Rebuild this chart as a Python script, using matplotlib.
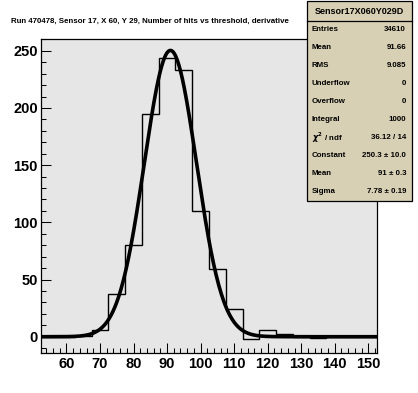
import numpy as np
import matplotlib
matplotlib.use('Agg')
import matplotlib.pyplot as plt
from matplotlib.patches import Rectangle
from matplotlib.ticker import MultipleLocator

plt.rcParams['font.family'] = ['Liberation Sans', 'DejaVu Sans']
plt.rcParams['font.weight'] = 'bold'
plt.rcParams['mathtext.fontset'] = 'dejavusans'

# ============================================================================
# data
# ============================================================================
bin_edges = np.arange(52.5, 153.0, 5.0)
bin_counts = [0, 0, 1, 6, 37, 80, 195, 244, 233, 110,
              59, 24, -2, 6, 2, 0, -1, 0, 0, 0]

# gaussian fit parameters from the stats box
fit_const, fit_mean, fit_sigma = 250.3, 91.0, 7.78

title = 'Run 470478, Sensor 17, X 60, Y 29, Number of hits vs threshold, derivative'
stats_name = 'Sensor17X060Y029D'
stats_labels = ['Entries', 'Mean', 'RMS', 'Underflow', 'Overflow', 'Integral',
                r'$\chi^{2}$ / ndf', 'Constant', 'Mean', 'Sigma']
stats_values = ['34610', '91.66', '9.085', '0', '0', '1000',
                '36.12 / 14', '250.3 \u00b1 10.0', '91 \u00b1 0.3',
                '7.78 \u00b1 0.19']

W, H = 418, 393
fig = plt.figure(figsize=(W / 100, H / 100), dpi=100)
ax = fig.add_axes([41.3 / W, 1 - 353.3 / H, (376.7 - 41.3) / W, (353.3 - 39) / H])
ax.set_facecolor('#e6e6e6')

ax.stairs(bin_counts, bin_edges, color='black', lw=1.0, baseline=None)

xf = np.linspace(bin_edges[0], bin_edges[-1], 400)
yf = fit_const * np.exp(-0.5 * ((xf - fit_mean) / fit_sigma) ** 2)
ax.plot(xf, yf, color='black', lw=2.6)

ax.set_xlim(52.5, 152.5)
ax.set_ylim(-14.5, 260.3)
ax.xaxis.set_major_locator(MultipleLocator(10))
ax.xaxis.set_minor_locator(MultipleLocator(2))
ax.yaxis.set_major_locator(MultipleLocator(50))
ax.yaxis.set_minor_locator(MultipleLocator(10))
ax.tick_params(which='both', direction='in', top=False, right=False,
               width=0.75, labelsize=10.5, pad=2.5)
ax.tick_params(which='major', length=7.2)
ax.tick_params(which='minor', length=3.6)
for lab in ax.get_xticklabels() + ax.get_yticklabels():
    lab.set_fontweight('bold')
for sp in ax.spines.values():
    sp.set_linewidth(0.9)

fig.text(11 / W, 1 - 21 / H, title, fontsize=5.7, fontweight='bold',
         ha='left', va='center')

# stats box
bx0, bx1, by0, by1 = 306.5, 411.5, 1.0, 200.5
fig.patches.append(Rectangle((bx0 / W, 1 - by1 / H), (bx1 - bx0) / W,
                             (by1 - by0) / H, transform=fig.transFigure,
                             facecolor='#d8d0b4', edgecolor='black', lw=0.9,
                             zorder=5))
fig.add_artist(plt.Line2D([bx0 / W, bx1 / W], [1 - 21 / H, 1 - 21 / H],
                          transform=fig.transFigure, color='black', lw=0.9,
                          zorder=6))
fig.text((bx0 + bx1) / 2 / W, 1 - 12 / H, stats_name, fontsize=6.5,
         fontweight='bold', ha='center', va='center', zorder=7)
row_h = (by1 - 21) / len(stats_labels)
for i, (lab, val) in enumerate(zip(stats_labels, stats_values)):
    yc = 21 + row_h * (i + 0.5)
    fig.text(312 / W, 1 - yc / H, lab, fontsize=5.7, fontweight='bold',
             ha='left', va='center', zorder=7)
    fig.text(406 / W, 1 - yc / H, val, fontsize=5.7, fontweight='bold',
             ha='right', va='center', zorder=7)

fig.savefig('out.png', dpi=100)
